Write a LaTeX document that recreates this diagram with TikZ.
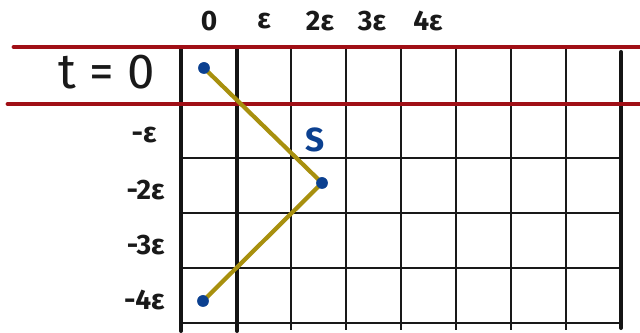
\documentclass[tikz,border=0pt]{standalone}
\usepackage{fontspec}
\setmainfont{Fira Sans}
\definecolor{gridred}{HTML}{A00F16}
\definecolor{pathgold}{HTML}{A8900E}
\definecolor{dotblue}{HTML}{0B4090}
\begin{document}
\begin{tikzpicture}[x=0.02cm, y=-0.02cm]
  \tikzset{
    thin_line/.style={line width=0.85pt, black!90},
    thick_line/.style={line width=2.3pt, black!92, line cap=round},
    red_line/.style={line width=2.8pt, gridred, line cap=round},
    path_line/.style={line width=2.4pt, pathgold},
    blue_dot/.style={circle, fill=dotblue, inner sep=0pt, minimum size=2.3mm},
    axis_label/.style={font=\fontsize{16}{18}\selectfont\bfseries, text=black!90, inner sep=0pt}
  }
  \useasboundingbox (0,0) rectangle (640,333);

  % Cuadrícula
  \foreach \x in {291,346,401,456,511,566} {
    \draw[thin_line] (\x,48) -- (\x,330);
  }
  \foreach \y in {158,213,268,323} {
    \draw[thin_line] (181,\y) -- (621,\y);
  }
  \draw[thick_line] (181,48) -- (181,331);
  \draw[thick_line] (237,48) -- (237,331);
  \draw[thick_line] (621,52) -- (621,328);

  % Franja t = 0
  \draw[red_line] (14,47) -- (640,47);
  \draw[red_line] (8,104) -- (640,104);

  % Etiquetas de los ejes
  \node[axis_label] (x0) at (209,21) {0};
  \node[axis_label] (x1) at (264,21) {ε};
  \node[axis_label] (x2) at (320,21) {2ε};
  \node[axis_label] (x3) at (372,21) {3ε};
  \node[axis_label] (x4) at (428,21) {4ε};
  \node[axis_label, anchor=east, font=\fontsize{28}{30}\selectfont] (t0) at (155,72) {t = 0};
  \node[axis_label, anchor=east] (y1) at (157,135) {-ε};
  \node[axis_label, anchor=east] (y2) at (165,190) {-2ε};
  \node[axis_label, anchor=east] (y3) at (165,245) {-3ε};
  \node[axis_label, anchor=east] (y4) at (165,300) {-4ε};

  % Trayectoria
  \node[blue_dot] (a) at (204,68) {};
  \node[blue_dot] (s) at (322,183) {};
  \node[blue_dot] (b) at (203,301) {};
  \draw[path_line] (a.center) -- (s.center);
  \draw[path_line] (s.center) -- (b.center);
  \node[blue_dot] at (a) {};
  \node[blue_dot] at (s) {};
  \node[blue_dot] at (b) {};

  \node[axis_label, text=dotblue, font=\fontsize{19}{22}\selectfont\bfseries] (s_label) at (315,140) {S};
\end{tikzpicture}
\end{document}
